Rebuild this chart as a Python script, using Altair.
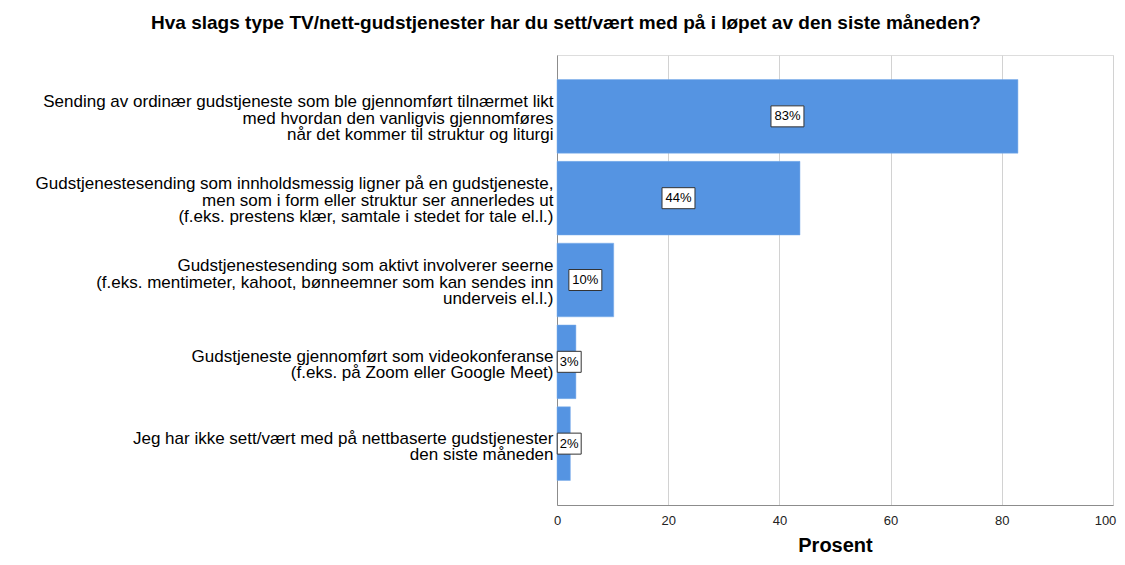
import altair as alt
import pandas as pd

categories = [
    "Sending av ordinær gudstjeneste som ble gjennomført tilnærmet likt|med hvordan den vanligvis gjennomføres|når det kommer til struktur og liturgi",
    "Gudstjenestesending som innholdsmessig ligner på en gudstjeneste,|men som i form eller struktur ser annerledes ut|(f.eks. prestens klær, samtale i stedet for tale el.l.)",
    "Gudstjenestesending som aktivt involverer seerne|(f.eks. mentimeter, kahoot, bønneemner som kan sendes inn|underveis el.l.)",
    "Gudstjeneste gjennomført som videokonferanse|(f.eks. på Zoom eller Google Meet)",
    "Jeg har ikke sett/vært med på nettbaserte gudstjenester|den siste måneden",
]
values = [82.9, 43.7, 10.2, 3.4, 2.4]
x_ticks = [0, 20, 40, 60, 80, 100]

df = pd.DataFrame({"kategori": categories, "prosent": values})

FONT = "Liberation Sans"

y_enc = alt.Y(
    "kategori:N",
    sort=None,
    title=None,
    scale=alt.Scale(paddingInner=0.1, paddingOuter=0.3),
    axis=alt.Axis(
        labelExpr="split(datum.label, '|')",
        labelFontSize=17,
        labelLineHeight=16.5,
        labelColor="#000000",
        labelFont=FONT,
        labelLimit=0,
        labelPadding=4,
        ticks=False,
        domainColor="#8c8c8c",
        labelAlign="right",
        labelBaseline="middle",
        labelOffset={"condition": {"test": "length(split(datum.label, '|')) > 2", "value": -14}, "value": -5},
    ),
)

x_scale = alt.Scale(domain=[0, 100], nice=False)

bars = alt.Chart(df).mark_bar(color="#5594e2", stroke="#7aaceb", strokeWidth=0.5).encode(
    x=alt.X(
        "prosent:Q",
        scale=x_scale,
        title="Prosent",
        axis=alt.Axis(
            values=x_ticks,
            ticks=False,
            grid=True,
            gridColor="#d2d2d2",
            gridWidth=1,
            domainColor="#8c8c8c",
            labelFontSize=13,
            labelColor="#222222",
            labelFont=FONT,
            labelPadding=9,
            labelFlush=False,
            labelOffset={"condition": {"test": "datum.value == 100", "value": -8}, "value": 0},
            titleFont=FONT,
            titleFontSize=20,
            titleFontWeight="bold",
            titleColor="#000000",
            titlePadding=8,
        ),
    ),
    y=y_enc,
)

base_lbl = alt.Chart(df).transform_calculate(
    pos="max(datum.prosent / 2, 2.2)",
    lbl="format(datum.prosent, '.0f') + '%'",
    box="length(format(datum.prosent, '.0f')) > 1 ? 'M-1.57,-1H1.57V1H-1.57Z' : 'M-1.14,-1H1.14V1H-1.14Z'",
)

boxes = base_lbl.mark_point(
    filled=True, fill="white", stroke="#333333", strokeWidth=1, size=441, opacity=1
).encode(
    x=alt.X("pos:Q", scale=x_scale),
    y=alt.Y("kategori:N", sort=None),
    shape=alt.Shape("box:N", scale=None, legend=None),
)

texts = base_lbl.mark_text(font=FONT, fontSize=13, color="#000000").encode(
    x=alt.X("pos:Q", scale=x_scale),
    y=alt.Y("kategori:N", sort=None),
    text="lbl:N",
)

chart = (
    alt.layer(bars, boxes, texts)
    .properties(
        width=556,
        height=450,
        autosize=alt.AutoSizeParams(type="none"),
        padding={"left": 549, "top": 47, "right": 4, "bottom": 52},
        title=alt.TitleParams(
            "Hva slags type TV/nett-gudstjenester har du sett/vært med på i løpet av den siste måneden?",
            font=FONT,
            fontSize=19,
            fontWeight="bold",
            color="#000000",
            anchor="middle",
            frame="group",
            dx=-269,
            offset=22,
        ),
    )
    .configure_view(stroke=None)
    .configure(background="white")
)

chart.save("out.html", embed_options={"renderer": "svg", "actions": False})
